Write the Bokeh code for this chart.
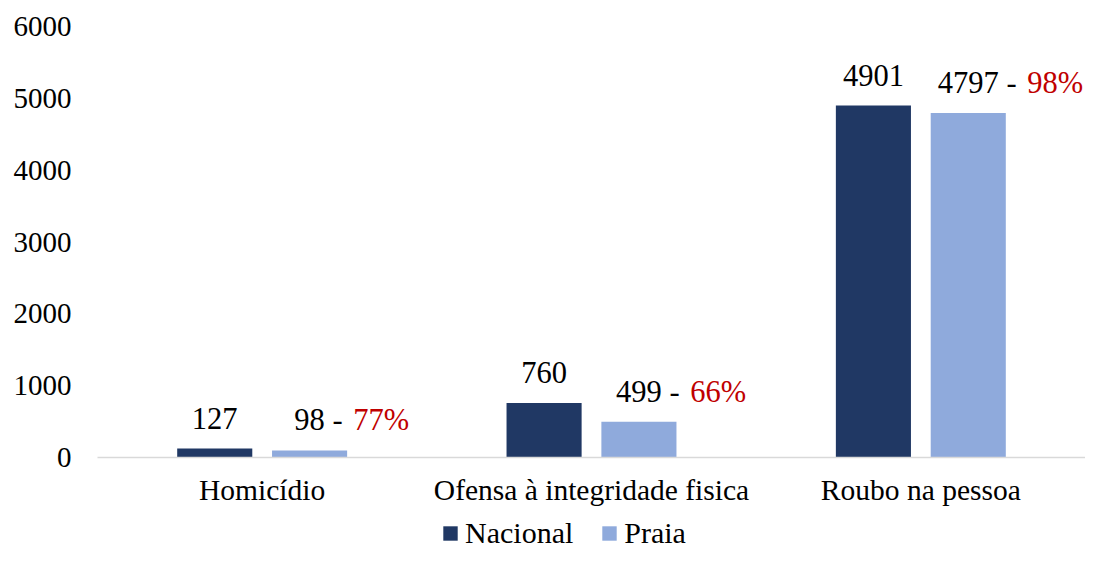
from bokeh.plotting import figure
from bokeh.layouts import column
from bokeh.models import ColumnDataSource, FactorRange, Range1d, Legend, LegendItem, FixedTicker
from bokeh.transform import dodge
from bokeh.core.properties import value
from bokeh.embed import file_html
from bokeh.resources import INLINE

categories = ["Homicídio", "Ofensa à integridade fisica", "Roubo na pessoa"]
nacional = [127, 760, 4901]
praia = [98, 499, 4797]
percent = ["77%", "66%", "98%"]
series = ["Nacional", "Praia"]
y_ticks = [0, 1000, 2000, 3000, 4000, 5000, 6000]

FONT = "Liberation Serif"
NAVY = "#203864"
LIGHT = "#8FAADC"
RED = "#C00000"
LBL_FS = 30.5  # px, data label font size
TICK_FS = "29px"
CAT_FS = "29.5px"

# Times/Liberation Serif advance widths (em) for label layout (Excel-like spacing)
ADV = {d: 0.5 for d in "0123456789"}
ADV.update({" ": 0.3, "-": 0.333})

def adv(s):
    return sum(ADV.get(c, 0.5) for c in s) * LBL_FS

prefix = [f"{v} - " for v in praia]
start_off = [-adv(str(v)) / 2 for v in praia]
red_off = [s + adv(pf) for s, pf in zip(start_off, prefix)]

src = ColumnDataSource(dict(
    cat=categories, nac=nacional, pra=praia,
    nac_lbl=[str(v) for v in nacional], pra_lbl=prefix, pct=percent,
    start_off=start_off, red_off=red_off,
))

p = figure(x_range=FactorRange(*categories), y_range=Range1d(0, 6000),
           width=1085, height=508, output_backend="svg", toolbar_location=None,
           min_border_left=97, min_border_right=0, min_border_top=26, min_border_bottom=49)

OFF = 0.144
W = 0.228
r1 = p.vbar(x=dodge("cat", -OFF, range=p.x_range), top="nac", width=W, source=src,
            fill_color=NAVY, line_color=None)
r2 = p.vbar(x=dodge("cat", OFF, range=p.x_range), top="pra", width=W, source=src,
            fill_color=LIGHT, line_color=None)

common = dict(source=src, y_offset=-30, text_baseline="alphabetic",
              text_font=value(FONT), text_font_size=f"{LBL_FS}px")
p.text(x=dodge("cat", -OFF, range=p.x_range), y="nac", text="nac_lbl",
       text_align="center", text_color="black", **common)
p.text(x=dodge("cat", OFF, range=p.x_range), y="pra", text="pra_lbl",
       text_align="left", x_offset="start_off", text_color="black", **common)
p.text(x=dodge("cat", OFF, range=p.x_range), y="pra", text="pct",
       text_align="left", x_offset="red_off", text_color=RED, **common)

p.outline_line_color = None
p.xgrid.grid_line_color = None
p.ygrid.grid_line_color = None
p.background_fill_color = "white"
p.border_fill_color = "white"

p.yaxis.ticker = FixedTicker(ticks=y_ticks)
p.yaxis.axis_line_color = None
p.yaxis.major_tick_line_color = None
p.yaxis.minor_tick_line_color = None
p.yaxis.major_label_standoff = 20
p.yaxis.major_label_text_font = FONT
p.yaxis.major_label_text_font_size = TICK_FS
p.yaxis.major_label_text_color = "black"

p.xaxis.axis_line_color = "#D9D9D9"
p.xaxis.axis_line_width = 1.5
p.xaxis.major_tick_line_color = None
p.xaxis.minor_tick_line_color = None
p.xaxis.major_label_standoff = 10
p.xaxis.major_label_text_font = FONT
p.xaxis.major_label_text_font_size = CAT_FS
p.xaxis.major_label_text_color = "black"

# Legend strip (separate figure so the legend is not clipped by the plot frame).
# Proxy renderers have zero height, so only their legend swatches show.
lg = figure(width=1085, height=42, output_backend="svg", toolbar_location=None,
            x_range=Range1d(0, 1), y_range=Range1d(0, 1),
            min_border_left=0, min_border_right=0, min_border_top=0, min_border_bottom=0)
lg.axis.visible = False
lg.grid.visible = False
lg.outline_line_color = None
lg.border_fill_color = "white"
lg.background_fill_color = "white"
proxy = ColumnDataSource(dict(x=[0.5], top=[0]))
l1 = lg.vbar(x="x", top="top", width=0.01, source=proxy, fill_color=NAVY, line_color=None)
l2 = lg.vbar(x="x", top="top", width=0.01, source=proxy, fill_color=LIGHT, line_color=None)

legend = Legend(items=[LegendItem(label=series[0], renderers=[l1]),
                       LegendItem(label=series[1], renderers=[l2])],
                orientation="horizontal", location=(344, 0),
                label_text_font=FONT, label_text_font_size="30px",
                label_text_color="black", glyph_width=18, glyph_height=18,
                label_standoff=6, spacing=27, padding=0, margin=0,
                border_line_color=None, background_fill_alpha=0)
lg.add_layout(legend, "center")

layout = column(p, lg, spacing=0)
open("out.html", "w").write(file_html(layout, INLINE))
